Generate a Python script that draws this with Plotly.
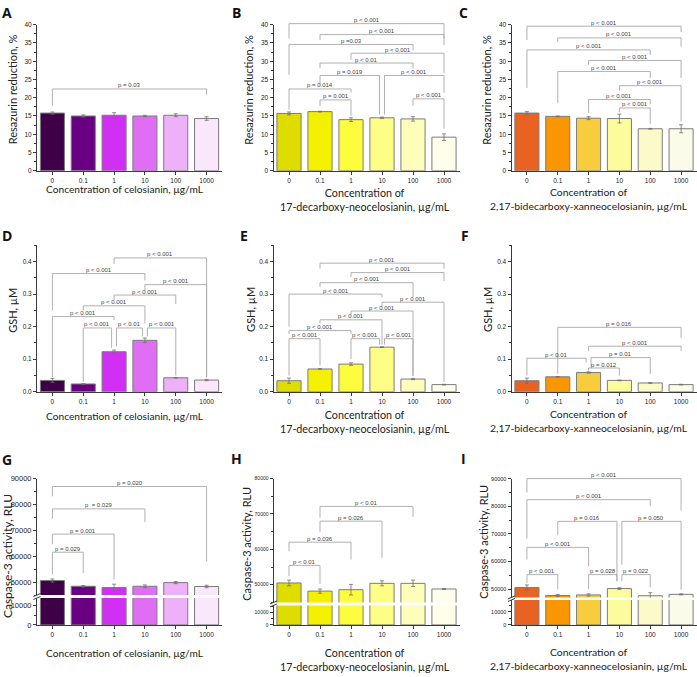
import plotly.graph_objects as go

W, H = 697, 677

categories = ["0", "0.1", "1", "10", "100", "1000"]

purple = ["#3f0049", "#690081", "#d22ff4", "#e06ef4", "#eeb1f9", "#fae7fc"]
yellow = ["#dfdc00", "#f3f000", "#fdfd3e", "#fefe87", "#fefeba", "#fefeeb"]
orange = ["#e86222", "#fa9600", "#f8cd3d", "#fcfc9c", "#fbfbc9", "#fbfbe9"]

res_cel = [15.8, 15.0, 15.2, 15.0, 15.2, 14.3]
res_cel_err = [0.3, 0.3, 0.7, 0.2, 0.4, 0.5]
res_dec = [15.7, 16.2, 14.0, 14.5, 14.2, 9.2]
res_dec_err = [0.4, 0.1, 0.5, 0.2, 0.6, 0.9]
res_bid = [15.8, 14.9, 14.4, 14.3, 11.5, 11.5]
res_bid_err = [0.4, 0.1, 0.4, 1.2, 0.1, 1.1]

gsh_cel = [0.035, 0.024, 0.123, 0.158, 0.043, 0.036]
gsh_cel_err = [0.006, 0.001, 0.005, 0.007, 0.001, 0.002]
gsh_dec = [0.034, 0.070, 0.085, 0.137, 0.039, 0.022]
gsh_dec_err = [0.008, 0.001, 0.004, 0.001, 0.002, 0.001]
gsh_bid = [0.034, 0.046, 0.059, 0.035, 0.027, 0.022]
gsh_bid_err = [0.008, 0.001, 0.002, 0.001, 0.001, 0.001]

casp_cel = [50600, 48400, 47900, 48400, 49800, 48300]
casp_cel_err = [600, 300, 1300, 500, 400, 500]
casp_dec = [50500, 48200, 48600, 50400, 50400, 48800]
casp_dec_err = [800, 600, 1500, 700, 900, 150]
casp_bid = [50600, 47700, 47900, 50200, 47600, 48100]
casp_bid_err = [900, 400, 400, 300, 1100, 200]

# significance brackets: (from, to, height, left-leg bottom, right-leg bottom, label)
br_A = [(0, 5, 22.4, 17.8, 20.8, "p = 0.03")]
br_B = [
    (0, 5, 40.3, 36.2, 36.2, "p < 0.001"),
    (1, 5, 37.3, 35.8, 34.4, "p < 0.001"),
    (0, 4, 34.6, 26.3, 33.0, "p =0.03"),
    (2, 5, 32.2, 30.4, 26.8, "p < 0.001"),
    (1, 4, 29.5, 28.1, 28.0, "p < 0.01"),
    (1, 3, 26.1, 23.6, 15.4, "p = 0.019"),
    (3, 5, 26.1, 15.4, 21.4, "p < 0.001"),
    (0, 2, 22.4, 16.8, 21.4, "p = 0.014"),
    (1, 2, 19.4, 17.8, 15.1, "p = 0.001"),
    (4, 5, 19.7, 17.8, 11.5, "p < 0.001"),
]
br_C = [
    (0, 5, 39.6, 35.8, 38.0, "p < 0.001"),
    (1, 5, 36.4, 35.3, 34.0, "p < 0.001"),
    (0, 4, 33.1, 22.7, 31.7, "p < 0.001"),
    (2, 5, 30.2, 29.0, 25.4, "p < 0.001"),
    (1, 4, 27.2, 18.6, 25.4, "p < 0.001"),
    (3, 5, 23.3, 21.9, 13.5, "p < 0.001"),
    (2, 4, 19.5, 15.9, 18.2, "p < 0.001"),
    (3, 4, 17.2, 16.0, 12.8, "p < 0.001"),
]
br_D = [
    (2, 5, 0.411, 0.393, 0.045, "p < 0.001"),
    (0, 3, 0.363, 0.250, 0.342, "p < 0.001"),
    (3, 5, 0.329, 0.310, 0.045, "p < 0.001"),
    (2, 4, 0.297, 0.282, 0.270, "p < 0.001"),
    (1, 3, 0.264, 0.250, 0.210, "p < 0.001"),
    (0, 2, 0.231, 0.045, 0.220, "p < 0.001"),
    (1, 2, 0.196, 0.030, 0.135, "p < 0.001"),
    (2, 3, 0.196, 0.140, 0.170, "p < 0.01"),
    (3, 4, 0.196, 0.170, 0.050, "p < 0.001"),
]
br_E = [
    (1, 5, 0.395, 0.378, 0.378, "p < 0.001"),
    (2, 5, 0.366, 0.352, 0.340, "p < 0.001"),
    (1, 4, 0.335, 0.322, 0.290, "p < 0.001"),
    (0, 3, 0.300, 0.200, 0.290, "p < 0.001"),
    (3, 5, 0.275, 0.262, 0.030, "p < 0.001"),
    (2, 4, 0.248, 0.237, 0.050, "p < 0.001"),
    (1, 3, 0.221, 0.210, 0.145, "p < 0.001"),
    (0, 2, 0.188, 0.177, 0.177, "p < 0.001"),
    (0, 1, 0.163, 0.050, 0.080, "p < 0.001"),
    (2, 3, 0.163, 0.100, 0.145, "p < 0.001"),
    (3, 4, 0.163, 0.145, 0.048, "p < 0.001"),
]
br_F = [
    (1, 5, 0.198, 0.055, 0.165, "p = 0.016"),
    (2, 5, 0.140, 0.125, 0.125, "p < 0.001"),
    (0, 2, 0.103, 0.050, 0.090, "p < 0.01"),
    (2, 4, 0.105, 0.077, 0.055, "p = 0.01"),
    (2, 3, 0.073, 0.065, 0.050, "p = 0.012"),
]
br_G = [
    (0, 5, 86950, 83100, 58000, "p = 0.020"),
    (0, 3, 78300, 74500, 73200, "p  = 0.029"),
    (0, 2, 68550, 64700, 51000, "p = 0.001"),
    (0, 1, 61550, 53000, 53500, "p = 0.029"),
]
br_H = [
    (1, 4, 72140, 69000, 69170, "p < 0.01"),
    (1, 3, 67970, 65000, 57600, "p = 0.026"),
    (0, 2, 62030, 59450, 57140, "p = 0.036"),
    (0, 1, 55470, 52500, 50200, "p < 0.01"),
]
br_I = [
    (0, 5, 90000, 85000, 78450, "p < 0.001"),
    (0, 4, 82380, 68300, 80000, "p < 0.001"),
    (1, 3, 74530, 69530, 52860, "p = 0.016"),
    (3, 5, 74530, 58800, 49800, "p = 0.050"),
    (0, 2, 65100, 60700, 58200, "p < 0.001"),
    (0, 1, 55240, 52250, 49900, "p < 0.001"),
    (2, 3, 55240, 50000, 52860, "p = 0.028"),
    (3, 4, 55240, 52860, 50600, "p = 0.022"),
]

x_titles = [
    "Concentration of celosianin, µg/mL",
    "Concentration of<br>17-decarboxy-neocelosianin, µg/mL",
    "Concentration of<br>2,17-bidecarboxy-xanneocelosianin, µg/mL",
]
y_titles = ["Resazurin reduction, %", "GSH, µM", "Caspase-3 activity, RLU"]

AX = "#3a3a3a"
BR = "#a8a8a8"
TITLE_FONT = "Lato"


def tf(size):
    return dict(family="Liberation Sans", size=size, color="#222222")


def fx(p):
    return p / W


def fy(p):
    return 1 - p / H


col_px = [(37, 222), (273.5, 459.5), (511.5, 696.5)]
col_colors = [purple, yellow, orange]

fig = go.Figure()
layout = dict(width=W, height=H, margin=dict(l=0, r=0, t=0, b=0),
              paper_bgcolor="white", plot_bgcolor="white", showlegend=False,
              bargap=0.22, font=dict(family="Liberation Sans"))
shapes = []
annotations = []


def sfx(n):
    return "" if n == 1 else str(n)


def xaxis_cfg(dom, anchor, show):
    return dict(domain=[fx(dom[0]), fx(dom[1])], anchor=anchor, type="category",
                categoryorder="array", categoryarray=categories,
                range=[-0.5, 5.5], showline=show, linecolor=AX, linewidth=1,
                ticks="outside" if show else "", ticklen=3, tickcolor=AX,
                showticklabels=show, tickfont=tf(6.5), showgrid=False, zeroline=False)


def yaxis_cfg(dom_px, anchor, rng, dtick, fmt, minor, fsize=6.5):
    return dict(domain=[fy(dom_px[1]), fy(dom_px[0])], anchor=anchor, range=rng,
                tick0=0, dtick=dtick, tickformat=fmt, showline=True, linecolor=AX,
                linewidth=1, ticks="outside", ticklen=3, tickcolor=AX, tickfont=tf(fsize),
                showgrid=False, zeroline=False,
                minor=dict(dtick=minor, ticks="outside", ticklen=2, tickcolor=AX, showgrid=False))


def add_bars(n, vals, errs, colors, show_err=True):
    s = sfx(n)
    fig.add_trace(go.Bar(
        x=categories, y=vals, marker=dict(color=colors, line=dict(color="#7b7b7b", width=1)),
        error_y=dict(type="data", array=errs, color="#707070", thickness=0.8, width=2,
                     visible=show_err),
        xaxis="x" + s, yaxis="y" + s, hoverinfo="skip"))


def add_brackets(n, brs, r0, r1):
    s = sfx(n)
    tol = 0.025 * (r1 - r0)

    def f(v):
        return (v - r0) / (r1 - r0)

    for k, (i, j, h, hl, hr, lab) in enumerate(brs):
        xi, xj = float(i), float(j)
        for m, (i2, j2, h2, *_r) in enumerate(brs):
            if m == k or abs(h2 - h) > tol:
                continue
            if j2 == i:
                xi = i + 0.08
            if i2 == j:
                xj = j - 0.08
        for (xa, ya, xb, yb) in [(xi, hl, xi, h), (xi, h, xj, h), (xj, h, xj, hr)]:
            shapes.append(dict(type="line", xref="x" + s, yref="y" + s + " domain",
                               x0=xa, y0=f(ya), x1=xb, y1=f(yb),
                               line=dict(color=BR, width=0.9)))
        annotations.append(dict(x=(xi + xj) / 2, y=f(h), xref="x" + s, yref="y" + s + " domain",
                                text=lab, showarrow=False, yanchor="bottom", yshift=-1.5,
                                font=dict(family="Liberation Sans", size=6, color="#444444")))


# ---- rows 1 and 2
row1 = [(res_cel, res_cel_err, br_A), (res_dec, res_dec_err, br_B), (res_bid, res_bid_err, br_C)]
row2 = [(gsh_cel, gsh_cel_err, br_D), (gsh_dec, gsh_dec_err, br_E), (gsh_bid, gsh_bid_err, br_F)]
for c in range(3):
    n = c + 1
    v, e, b = row1[c]
    layout["xaxis" + sfx(n)] = xaxis_cfg(col_px[c], "y" + sfx(n), True)
    layout["yaxis" + sfx(n)] = yaxis_cfg((21, 169), "x" + sfx(n), [0, 40], 5, "", 2.5)
    add_bars(n, v, e, col_colors[c])
    add_brackets(n, b, 0, 40)

    n = c + 4
    v, e, b = row2[c]
    layout["xaxis" + sfx(n)] = xaxis_cfg(col_px[c], "y" + sfx(n), True)
    layout["yaxis" + sfx(n)] = yaxis_cfg((244.5, 393), "x" + sfx(n), [0, 0.45], 0.1, ".1f", 0.05)
    add_bars(n, v, e, col_colors[c])
    add_brackets(n, b, 0, 0.45)

# ---- row 3 (broken axis)
row3 = [(casp_cel, casp_cel_err, br_G), (casp_dec, casp_dec_err, br_H), (casp_bid, casp_bid_err, br_I)]
upper_px = [(481, 599), (481, 606.5), (481, 601.4)]
upper_rng = [[45000, 90000], [45000, 80000], [47000, 90000]]
lower_px = [(602, 629.3), (609.5, 629.3), (604, 629.3)]
lower_rng = [[0, 14000], [0, 15500], [0, 19000]]
ytick_size3 = [7.5, 5, 5.5]
for c in range(3):
    v, e, b = row3[c]
    nu = c + 7
    nl = c + 10
    layout["xaxis" + sfx(nu)] = xaxis_cfg(col_px[c], "y" + sfx(nu), False)
    layout["yaxis" + sfx(nu)] = yaxis_cfg(upper_px[c], "x" + sfx(nu), upper_rng[c], 10000, "d", 5000,
                                          ytick_size3[c])
    layout["xaxis" + sfx(nl)] = xaxis_cfg(col_px[c], "y" + sfx(nl), True)
    layout["yaxis" + sfx(nl)] = yaxis_cfg(lower_px[c], "x" + sfx(nl), lower_rng[c], 10000, "d", 5000,
                                          ytick_size3[c])
    add_bars(nu, v, e, col_colors[c], True)
    add_bars(nl, v, e, col_colors[c], False)
    add_brackets(nu, b, upper_rng[c][0], upper_rng[c][1])
    # axis break marks
    ax = col_px[c][0]
    for yb in (upper_px[c][1], lower_px[c][0]):
        shapes.append(dict(type="line", xref="paper", yref="paper",
                           x0=fx(ax - 3.5), y0=fy(yb + 1.5), x1=fx(ax + 3.5), y1=fy(yb - 1.5),
                           line=dict(color=AX, width=1)))

# ---- panel letters
letters = [("A", 7, 9), ("B", 236, 9), ("C", 464, 9),
           ("D", 7, 235), ("E", 244, 235), ("F", 465, 235),
           ("G", 7, 462), ("H", 236, 461), ("I", 464, 461)]
for t, x, y in letters:
    annotations.append(dict(x=fx(x), y=fy(y), xref="paper", yref="paper", text="<b>" + t + "</b>",
                            showarrow=False, xanchor="center", yanchor="middle",
                            font=dict(family="Open Sans", size=14, color="#111111")))

# ---- y titles
ytitle_pos = [
    [(12.5, 87, 11), (249, 87, 11), (487, 87, 11)],
    [(13, 311, 11), (251, 310, 11), (488, 310, 11)],
    [(7.5, 560, 12), (247, 547, 11), (484, 545, 11)],
]
for r in range(3):
    for c in range(3):
        x, y, sz = ytitle_pos[r][c]
        annotations.append(dict(x=fx(x), y=fy(y), xref="paper", yref="paper", text=y_titles[r],
                                textangle=-90, showarrow=False, xanchor="center", yanchor="middle",
                                font=dict(family=TITLE_FONT, size=sz, color="#222222")))

# ---- x titles (centre positions)
xtitle_pos = [
    [(125, 187), (365, 198), (589, 198)],
    [(125, 418), (365, 423), (589, 423)],
    [(125, 658), (365, 664), (589, 664)],
]
xtitle_size = [10.2, 10.7, 10.4]
for r in range(3):
    for c in range(3):
        x, y = xtitle_pos[r][c]
        annotations.append(dict(x=fx(x), y=fy(y), xref="paper", yref="paper", text=x_titles[c],
                                showarrow=False, xanchor="center", yanchor="middle", align="center",
                                font=dict(family=TITLE_FONT, size=xtitle_size[c], color="#222222")))

layout["shapes"] = shapes
layout["annotations"] = annotations
fig.update_layout(**layout)
fig.write_html("out.html", config={"displayModeBar": False},
               post_script="document.body.style.margin='0px';document.body.style.overflow='hidden';")
